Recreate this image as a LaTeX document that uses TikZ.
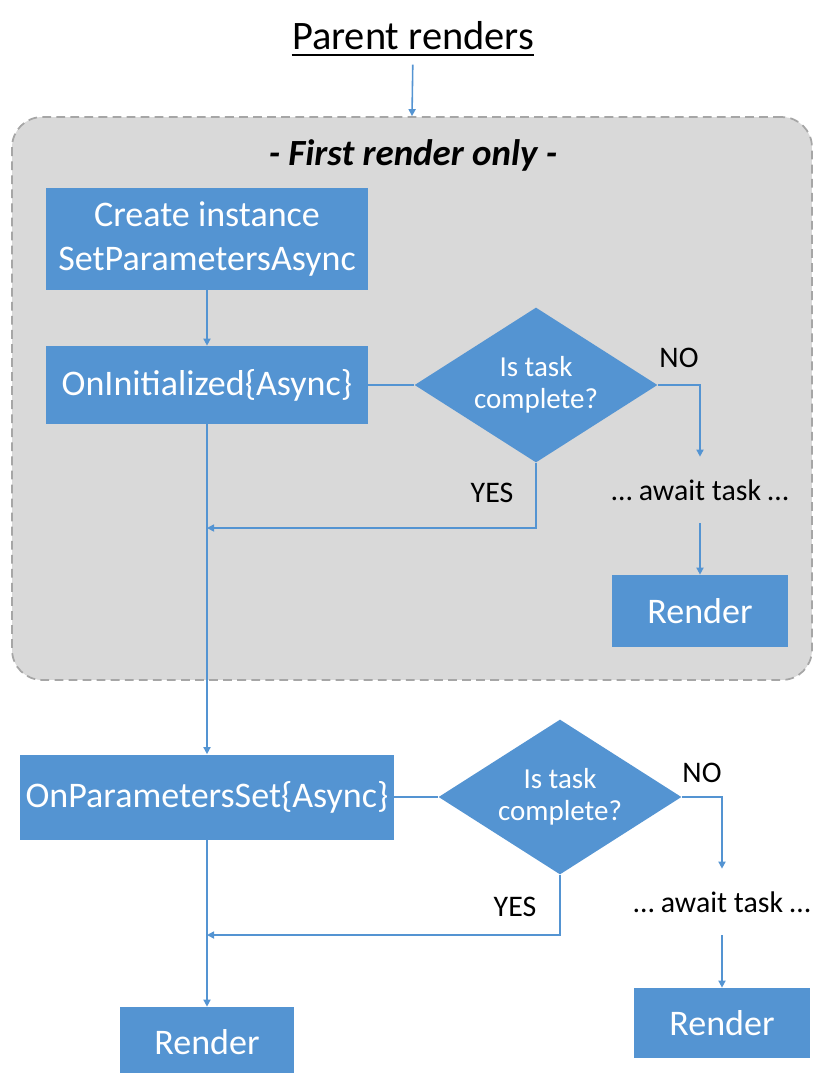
\documentclass[tikz,border=0pt]{standalone}
\usepackage{fontspec}
\setmainfont{Carlito}
\usepackage{tikz}
\usetikzlibrary{shapes,arrows,positioning,calc,arrows.meta}
\definecolor{boxblue}{RGB}{84,148,210}
\definecolor{regiongray}{RGB}{217,217,217}

\begin{document}
\begin{tikzpicture}[x=0.02cm, y=-0.02cm,
    block/.style={fill=boxblue, text=white, inner sep=0pt, align=center, font=\fontsize{20.5}{24.5}\selectfont},
    decision/.style={diamond, fill=boxblue, text=white, inner sep=0pt, align=center, shape aspect=1.57, minimum width=4.86cm, minimum height=3.1cm, font=\fontsize{16.5}{18.5}\selectfont},
    flow/.style={draw=boxblue, line width=0.9pt, -{Triangle[length=4pt,width=4pt]}},
    link/.style={draw=boxblue, line width=0.9pt},
    lbl/.style={font=\fontsize{17}{20}\selectfont, inner sep=0pt},
    waitlbl/.style={lbl, inner ysep=0.45cm}]
    \useasboundingbox (0,0) rectangle (815,1073);

    % First render region
    \node[draw=gray!70, fill=regiongray, dash pattern=on 5pt off 3pt, line width=1pt, rounded corners=0.6cm, minimum width=16cm, minimum height=11.26cm] (firstonly) at (412,398.5) {};
    \node[font=\fontsize{21}{25}\selectfont\bfseries\itshape] (firsthdr) at (413,155) {- First render only -};

    % Title
    \node[inner sep=0pt, font=\fontsize{23}{27}\selectfont] (title) at (413,36) {Parent renders};
    \draw[line width=1.3pt] ($(title.base west)+(0,5)$) -- ($(title.base east)+(0,5)$);
    \draw[flow, shorten <=0.28cm] (title.south) -- (firstonly.north);

    % Initialization
    \node[block, minimum width=6.44cm, minimum height=2.04cm] (create) at (207,239) {Create instance\\SetParametersAsync};
    \node[block, minimum width=6.44cm, minimum height=1.56cm] (init) at (207,385) {OnInitialized\{Async\}};
    \node[decision] (dec1) at (536,385) {Is task\\complete?};
    \node[lbl] (no1) at (679,358) {NO};
    \node[lbl] (yes1) at (492,493) {YES};
    \node[waitlbl] (wait1) at (700,490) {… await task …};
    \node[block, minimum width=3.52cm, minimum height=1.44cm] (render1) at (700,611) {Render};
    \coordinate (j1) at (207,528);

    \draw[flow] (create.south) -- (init.north);
    \draw[link] (init.east) -- (dec1.west);
    \draw[flow] (dec1.east) -| (wait1.north);
    \draw[flow] (wait1.south) -- (render1.north);
    \draw[flow] (dec1.south) |- (j1);

    % Parameters set
    \node[block, minimum width=7.48cm, minimum height=1.7cm] (params) at (207,797) {OnParametersSet\{Async\}};
    \node[decision] (dec2) at (560,797) {Is task\\complete?};
    \node[lbl] (no2) at (702,773) {NO};
    \node[lbl] (yes2) at (515,907) {YES};
    \node[waitlbl] (wait2) at (722,902) {… await task …};
    \node[block, minimum width=3.54cm, minimum height=1.4cm] (render2) at (722,1023) {Render};
    \node[block, minimum width=3.48cm, minimum height=1.4cm] (render3) at (207,1042) {Render};
    \coordinate (j2) at (207,935);

    \draw[flow] (init.south) -- (params.north);
    \draw[link] (params.east) -- (dec2.west);
    \draw[flow] (dec2.east) -| (wait2.north);
    \draw[flow] (wait2.south) -- (render2.north);
    \draw[flow] (dec2.south) |- (j2);
    \draw[flow] (params.south) -- (render3.north);
\end{tikzpicture}
\end{document}
